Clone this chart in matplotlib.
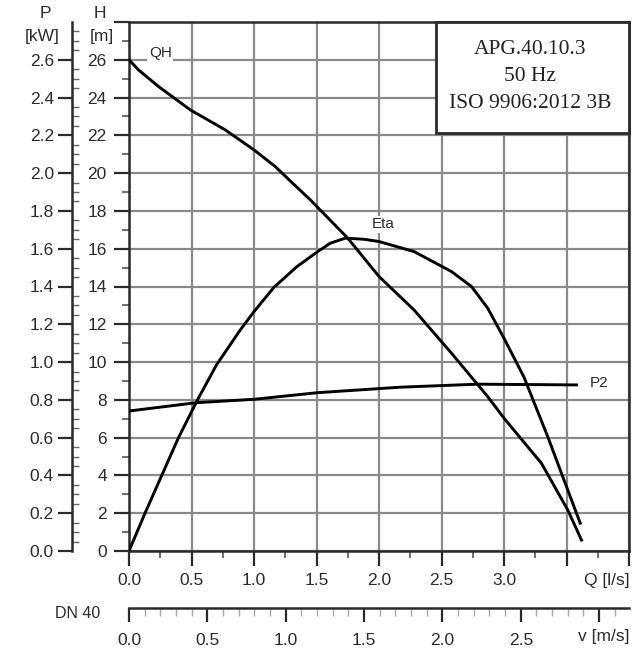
import numpy as np
import matplotlib
matplotlib.use('Agg')
import matplotlib.pyplot as plt
from matplotlib.patches import Rectangle

# curve data
q_qh = [0.0, 0.075, 0.235, 0.49, 0.77, 1.0, 1.17, 1.28, 1.45, 1.75, 2.0, 2.28, 2.58, 2.87, 3.0, 3.30, 3.51, 3.62]
h_qh = [26.0, 25.47, 24.59, 23.35, 22.29, 21.23, 20.35, 19.65, 18.59, 16.56, 14.53, 12.76, 10.47, 8.17, 7.03, 4.64, 2.17, 0.58]

q_eta = [0.0, 0.128, 0.262, 0.396, 0.548, 0.70, 0.89, 1.0, 1.16, 1.345, 1.51, 1.61, 1.73, 1.88, 2.0,
         2.28, 2.58, 2.74, 2.87, 3.0, 3.16, 3.35, 3.51, 3.61]
h_eta = [0.0, 2.0, 4.0, 6.0, 8.0, 9.85, 11.7, 12.67, 13.96, 15.06, 15.85, 16.29, 16.56, 16.5, 16.38,
         15.85, 14.79, 14.0, 12.85, 11.26, 9.2, 6.05, 3.23, 1.47]

q_p2 = [0.0, 0.54, 1.0, 1.51, 2.17, 2.79, 3.58]
p_p2 = [0.741, 0.785, 0.803, 0.838, 0.867, 0.883, 0.879]

q_ticks = [0.0, 0.5, 1.0, 1.5, 2.0, 2.5, 3.0, 3.5, 4.0]
q_labels = ['0.0', '0.5', '1.0', '1.5', '2.0', '2.5', '3.0', '', '']
h_ticks = list(range(0, 29, 2))
h_labels = [str(h) for h in range(0, 27, 2)] + ['']
p_ticks = [round(0.2 * i, 1) for i in range(14)]
p_labels = ['%.1f' % p for p in p_ticks]
v_ticks = [0.0, 0.5, 1.0, 1.5, 2.0, 2.5, 3.0]
v_labels = ['0.0', '0.5', '1.0', '1.5', '2.0', '2.5', '']

info_lines = ['APG.40.10.3', '50 Hz', 'ISO 9906:2012 3B']

W, H = 633, 654
plt.rcParams['font.family'] = ['Liberation Sans', 'DejaVu Sans']
txt = '#2b2b2b'
dark = '#2a2a2a'
gridc = '#8a8a8a'
fs = 12.5

def fp(x, y):
    return x / W, 1 - y / H

fig = plt.figure(figsize=(W / 100, H / 100), dpi=100)
ax = fig.add_axes([129 / W, 1 - 551 / H, 500 / W, 529 / H])
ax.set_xlim(0, 4)
ax.set_ylim(0, 28)

for s in ax.spines.values():
    s.set_color(dark)
    s.set_linewidth(1.8)

ax.set_xticks(q_ticks)
ax.set_xticklabels(q_labels)
ax.set_xticks(np.arange(0.25, 4.0, 0.5), minor=True)
ax.set_yticks(h_ticks)
ax.set_yticklabels(h_labels)
ax.set_yticks(np.arange(1, 28, 2), minor=True)
ax.tick_params(which='major', direction='out', length=11, width=1.6, color=dark,
               labelsize=fs, labelcolor=txt, pad=5)
ax.tick_params(which='minor', direction='out', length=5, width=1.2, color='#555555')
ax.grid(True, which='major', color=gridc, linewidth=1.6)
ax.set_axisbelow(True)

# P axis (kW) on the far left
pax = ax.twinx()
pax.set_ylim(0, 2.8)
pax.spines['left'].set_position(('axes', -57 / 500))
pax.spines['left'].set_color(dark)
pax.spines['left'].set_linewidth(1.8)
for k in ['right', 'top', 'bottom']:
    pax.spines[k].set_visible(False)
pax.yaxis.set_ticks_position('left')
pax.set_yticks(p_ticks)
pax.set_yticklabels(p_labels)
pax.set_yticks(np.arange(0.05, 2.8, 0.05), minor=True)
pax.tick_params(axis='y', which='major', direction='out', length=10, width=1.6, color=dark,
                labelsize=fs, labelcolor=txt, pad=3)
pax.tick_params(axis='y', which='minor', direction='in', length=5, width=1.0, color='#666666')

# curves
ax.plot(q_qh, h_qh, color='black', lw=2.1, zorder=5)
ax.plot(q_eta, h_eta, color='black', lw=2.1, zorder=5)
pax.plot(q_p2, p_p2, color='black', lw=2.1, zorder=5)

ax.text(0.25, 26.35, 'QH', fontsize=11, color=txt, ha='center', va='center',
        bbox=dict(facecolor='white', edgecolor='none', pad=1), zorder=4)
ax.text(2.03, 17.3, 'Eta', fontsize=11, color=txt, ha='center', va='center',
        bbox=dict(facecolor='white', edgecolor='none', pad=1), zorder=4)
ax.text(3.76, 8.9, 'P2', fontsize=11, color=txt, ha='center', va='center',
        bbox=dict(facecolor='white', edgecolor='none', pad=1), zorder=4)

# info box
ax.add_patch(Rectangle((307 / 500, 418 / 529), 193 / 500, 111 / 529, transform=ax.transAxes,
                       facecolor='white', edgecolor=dark, lw=2, zorder=6, clip_on=False))
for i, line in enumerate(info_lines):
    x0, y0 = fp(530, 50 + 26.5 * i)
    fig.text(x0, y0, line, fontsize=15.5, zorder=7, family='Liberation Serif',
             color='#222222', ha='center', va='center')

# velocity axis
vax = fig.add_axes([129 / W, 1 - 608 / H, 500 / W, 1e-4])
vax.set_xlim(0, 500 / 156.7)
vax.set_ylim(0, 1)
for k in ['left', 'right', 'top']:
    vax.spines[k].set_visible(False)
vax.spines['bottom'].set_color(dark)
vax.spines['bottom'].set_linewidth(1.8)
vax.set_yticks([])
vax.set_xticks(v_ticks)
vax.set_xticklabels(v_labels)
vax.set_xticks(np.arange(0.1, 3.19, 0.1), minor=True)
vax.tick_params(which='major', direction='out', length=10, width=1.6, color=dark,
                labelsize=fs, labelcolor=txt, pad=8)
vax.tick_params(which='minor', direction='out', length=6, width=1.0, color='#aaaaaa')

# axis captions
for s, x, y, ha in [('P', 45, 13, 'center'), ('[kW]', 42, 37, 'center'),
                    ('H', 100, 13, 'center'), ('[m]', 102, 37, 'center'),
                    ('DN 40', 100, 613, 'right'), ('Q [l/s]', 630, 581, 'right'),
                    ('v [m/s]', 630, 637, 'right')]:
    x0, y0 = fp(x, y)
    fig.text(x0, y0, s, fontsize=fs if s != 'DN 40' else 11.5, color=txt,
             ha=ha, va='center')

fig.savefig('out.png', dpi=100)
